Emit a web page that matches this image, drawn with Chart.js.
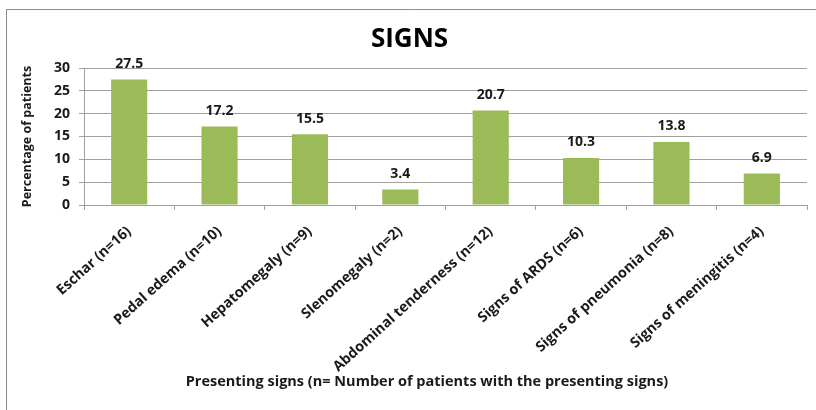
<!DOCTYPE html>
<html>
<head>
<meta charset="utf-8">
<script src="https://cdn.jsdelivr.net/npm/chart.js@4/dist/chart.umd.min.js"></script>
<style>
  html, body { margin: 0; padding: 0; background: #fff; }
  #wrap { width: 816px; height: 410px; position: relative; }
</style>
</head>
<body>
<div id="wrap"><canvas id="c" width="816" height="410"></canvas></div>
<script>
const categories = [
  'Eschar (n=16)', 'Pedal edema (n=10)', 'Hepatomegaly (n=9)', 'Slenomegaly (n=2)',
  'Abdominal tenderness (n=12)', 'Signs of ARDS (n=6)', 'Signs of pneumonia (n=8)', 'Signs of meningitis (n=4)'
];
const percentages = [27.5, 17.2, 15.5, 3.4, 20.7, 10.3, 13.8, 6.9];
const yTicks = [0, 5, 10, 15, 20, 25, 30];
const xAxisTitle = 'Presenting signs (n= Number of patients with the presenting signs)';

const FONT = "'Open Sans', 'DejaVu Sans', sans-serif";
const GRID = '#a0a0a0';
const TEXT = '#1a1a1a';

const frame = {
  id: 'frame',
  beforeDraw(chart) {
    const ctx = chart.ctx;
    ctx.save();
    ctx.strokeStyle = '#8c8c8c';
    ctx.lineWidth = 1;
    ctx.beginPath();
    ctx.moveTo(6.5, 410);
    ctx.lineTo(6.5, 9.5);
    ctx.lineTo(816, 9.5);
    ctx.stroke();
    ctx.restore();
  },
  afterDraw(chart) {
    const ctx = chart.ctx;
    ctx.save();
    ctx.font = "bold 14.5px " + FONT;
    ctx.fillStyle = TEXT;
    ctx.textAlign = 'center';
    ctx.textBaseline = 'middle';
    ctx.fillText(xAxisTitle, 427, 382);
    ctx.restore();
  }
};

const valueLabels = {
  id: 'valueLabels',
  afterDatasetsDraw(chart) {
    const ctx = chart.ctx;
    const meta = chart.getDatasetMeta(0);
    ctx.save();
    ctx.font = "bold 14px " + FONT;
    ctx.fillStyle = TEXT;
    ctx.textAlign = 'center';
    ctx.textBaseline = 'middle';
    meta.data.forEach((bar, i) => {
      ctx.fillText(String(percentages[i]), bar.x, bar.y - 15.5);
    });
    ctx.restore();
  }
};

new Chart(document.getElementById('c'), {
  type: 'bar',
  data: {
    labels: categories,
    datasets: [{
      data: percentages,
      backgroundColor: '#9bbb59',
      borderWidth: 0,
      barPercentage: 0.4,
      categoryPercentage: 1.0
    }]
  },
  options: {
    responsive: false,
    animation: false,
    devicePixelRatio: 1,
    layout: { padding: { left: 12, right: 9, top: 0, bottom: 0 } },
    plugins: {
      legend: { display: false },
      tooltip: { enabled: false },
      title: {
        display: true,
        text: 'SIGNS',
        color: '#000',
        font: { family: FONT, size: 26, weight: 'bold', lineHeight: 1.1 },
        padding: { top: 25.7, bottom: 13.7 }
      }
    },
    scales: {
      x: {
        offset: true,
        grid: { display: true, drawOnChartArea: false, drawTicks: true, tickLength: 5, offset: true, color: GRID },
        border: { display: true, color: GRID },
        ticks: {
          minRotation: 42, maxRotation: 42, autoSkip: false, padding: 13,
          color: TEXT,
          font: { family: FONT, size: 14.3, weight: 'bold' }
        },
        title: { display: false },
        afterFit(scale) { scale.height = 205; }
      },
      y: {
        min: 0, max: 30,
        afterBuildTicks(scale) { scale.ticks = yTicks.map(v => ({ value: v })); },
        grid: { color: GRID, drawTicks: true, tickLength: 5 },
        border: { display: true, color: GRID },
        ticks: {
          padding: 9,
          color: TEXT,
          font: { family: FONT, size: 14, weight: 'bold' }
        },
        title: {
          display: true,
          text: 'Percentage of patients',
          color: TEXT,
          font: { family: FONT, size: 12.5, weight: 'bold', lineHeight: 1.2 },
          padding: { top: 7.5, bottom: 0 }
        },
        afterFit(scale) { scale.width = 72; }
      }
    }
  },
  plugins: [frame, valueLabels]
});
</script>
</body>
</html>
